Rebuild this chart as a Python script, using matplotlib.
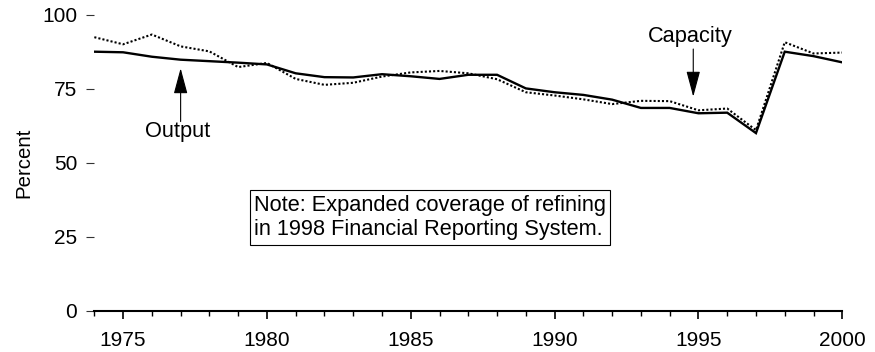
import matplotlib
matplotlib.use("Agg")
import matplotlib.pyplot as plt
from matplotlib.ticker import MultipleLocator

plt.rcParams['font.family'] = ['Liberation Sans', 'DejaVu Sans']

years = list(range(1974, 2001))
output = [87.6, 87.4, 85.9, 84.9, 84.4, 83.9, 83.3, 80.3, 79.0, 78.9,
          80.0, 79.3, 78.4, 79.8, 79.8, 75.2, 73.9, 73.0, 71.4, 68.6,
          68.6, 66.8, 67.0, 60.1, 87.6, 86.1, 84.0]
capacity = [92.5, 90.1, 93.4, 89.4, 87.7, 82.4, 83.8, 78.4, 76.4, 77.1,
            79.2, 80.6, 81.1, 80.3, 78.3, 73.9, 72.8, 71.5, 69.9, 71.0,
            70.9, 67.8, 68.4, 61.1, 90.8, 87.0, 87.3]
x_major = [1975, 1980, 1985, 1990, 1995, 2000]
y_ticks = [0, 25, 50, 75, 100]
note = "Note: Expanded coverage of refining\nin 1998 Financial Reporting System."

fig = plt.figure(figsize=(8.75, 3.52), dpi=100)
ax = fig.add_axes([0.1078, 0.1165, 0.8548, 0.8409])

ax.plot(years, capacity, color='black', lw=1.5, linestyle=(0, (1, 1)))
ax.plot(years, output, color='black', lw=1.7, solid_joinstyle='miter')

ax.set_xlim(1974, 2000)
ax.set_ylim(0, 100)
ax.set_xticks(x_major)
ax.xaxis.set_minor_locator(MultipleLocator(1))
ax.set_yticks(y_ticks)

for s in ['top', 'right', 'left']:
    ax.spines[s].set_visible(False)
ax.spines['bottom'].set_linewidth(1.5)

ax.tick_params(axis='x', which='major', direction='out', length=6, width=1.2,
               labelsize=15, pad=8.5)
ax.tick_params(axis='x', which='minor', direction='out', length=3.5, width=1.0)
ax.tick_params(axis='y', which='major', direction='out', length=5.8, width=0.8,
               labelsize=15, pad=6.5, color='#333333')

ax.set_ylabel('Percent', fontsize=14.7)
ax.yaxis.set_label_coords(-0.082, 0.5)

arrow_kw = dict(arrowstyle='-|>,head_length=1.6,head_width=0.43',
                mutation_scale=10, color='black', lw=0.8, shrinkA=0, shrinkB=0)
ax.annotate('', xy=(1977, 82), xytext=(1977, 64), arrowprops=arrow_kw)
ax.text(1976.9, 60.6, 'Output', ha='center', va='center', fontsize=15.7)
ax.annotate('', xy=(1994.82, 72.4), xytext=(1994.82, 88.5), arrowprops=arrow_kw)
ax.text(1994.7, 92.9, 'Capacity', ha='center', va='center', fontsize=15.7)

ax.text(1979.55, 31.6, note, ha='left', va='center', fontsize=15.7,
        linespacing=1.22,
        bbox=dict(boxstyle='square,pad=0.2', facecolor='white',
                  edgecolor='black', lw=0.8))

fig.savefig('out.png', dpi=100)
